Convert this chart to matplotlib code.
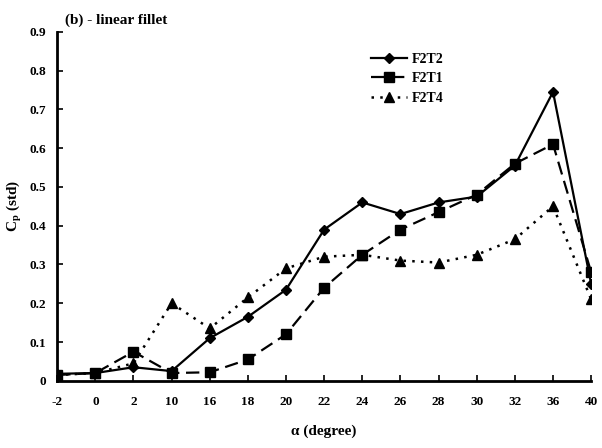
import matplotlib
matplotlib.use("Agg")
import matplotlib.pyplot as plt

# angle of attack categories (plotted evenly spaced)
alpha_labels = ["-2", "0", "2", "10", "16", "18", "20", "22", "24", "26", "28", "30", "32", "36", "40"]

f2t2 = [0.018, 0.02, 0.035, 0.025, 0.11, 0.165, 0.235, 0.39, 0.46, 0.43, 0.46, 0.475, 0.555, 0.745, 0.25]
f2t1 = [0.015, 0.02, 0.075, 0.02, 0.022, 0.055, 0.12, 0.24, 0.325, 0.39, 0.435, 0.48, 0.56, 0.61, 0.28]
f2t4 = [0.015, 0.02, 0.045, 0.2, 0.135, 0.215, 0.29, 0.32, 0.325, 0.31, 0.305, 0.325, 0.365, 0.45, 0.21]

y_ticks = [0, 0.1, 0.2, 0.3, 0.4, 0.5, 0.6, 0.7, 0.8, 0.9]

plt.rcParams["font.family"] = ["Liberation Serif", "DejaVu Serif"]
plt.rcParams["font.weight"] = "bold"

fig = plt.figure(figsize=(6.02, 4.48), dpi=100)
ax = fig.add_axes([0.095, 0.150, 0.887, 0.779])

x = list(range(len(alpha_labels)))
ax.plot(x, f2t2, color="black", linestyle="-", linewidth=1.6, marker="D", markersize=5, label="F2T2")
ax.plot(x, f2t1, color="black", linestyle=(0, (6, 3)), linewidth=1.6, marker="s", markersize=6.5, label="F2T1")
ax.plot(x, f2t4, color="black", linestyle=(0, (1, 2.5)), linewidth=1.8, marker="^", markersize=7, label="F2T4")

ax.set_xlim(0, len(alpha_labels) - 1)
ax.set_ylim(0, 0.9)
ax.set_xticks(x)
ax.set_xticklabels(alpha_labels)
ax.set_yticks(y_ticks)
ax.set_yticklabels(["0"] + [f"{v:.1f}" for v in y_ticks[1:]])

ax.spines["top"].set_visible(False)
ax.spines["right"].set_visible(False)
ax.spines["left"].set_linewidth(2)
ax.spines["bottom"].set_linewidth(2)
ax.tick_params(direction="in", length=4, width=1.2, labelsize=9.5)
ax.tick_params(axis="x", pad=11)
ax.tick_params(axis="y", pad=8)

ax.set_xlabel("α (degree)", fontsize=11, fontweight="bold", labelpad=12)
ax.set_ylabel("C$_\\mathregular{p}$ (std)", fontsize=11, fontweight="bold", labelpad=4)
ax.text(0.015, 1.015, "(b) - linear fillet", transform=ax.transAxes, fontsize=11,
        fontweight="bold", va="bottom", ha="left")

ax.legend(loc="upper left", bbox_to_anchor=(0.565, 0.975), frameon=False, fontsize=10,
          handlelength=2.6, labelspacing=0.45, handletextpad=0.3)

fig.savefig("out.png", dpi=100)
